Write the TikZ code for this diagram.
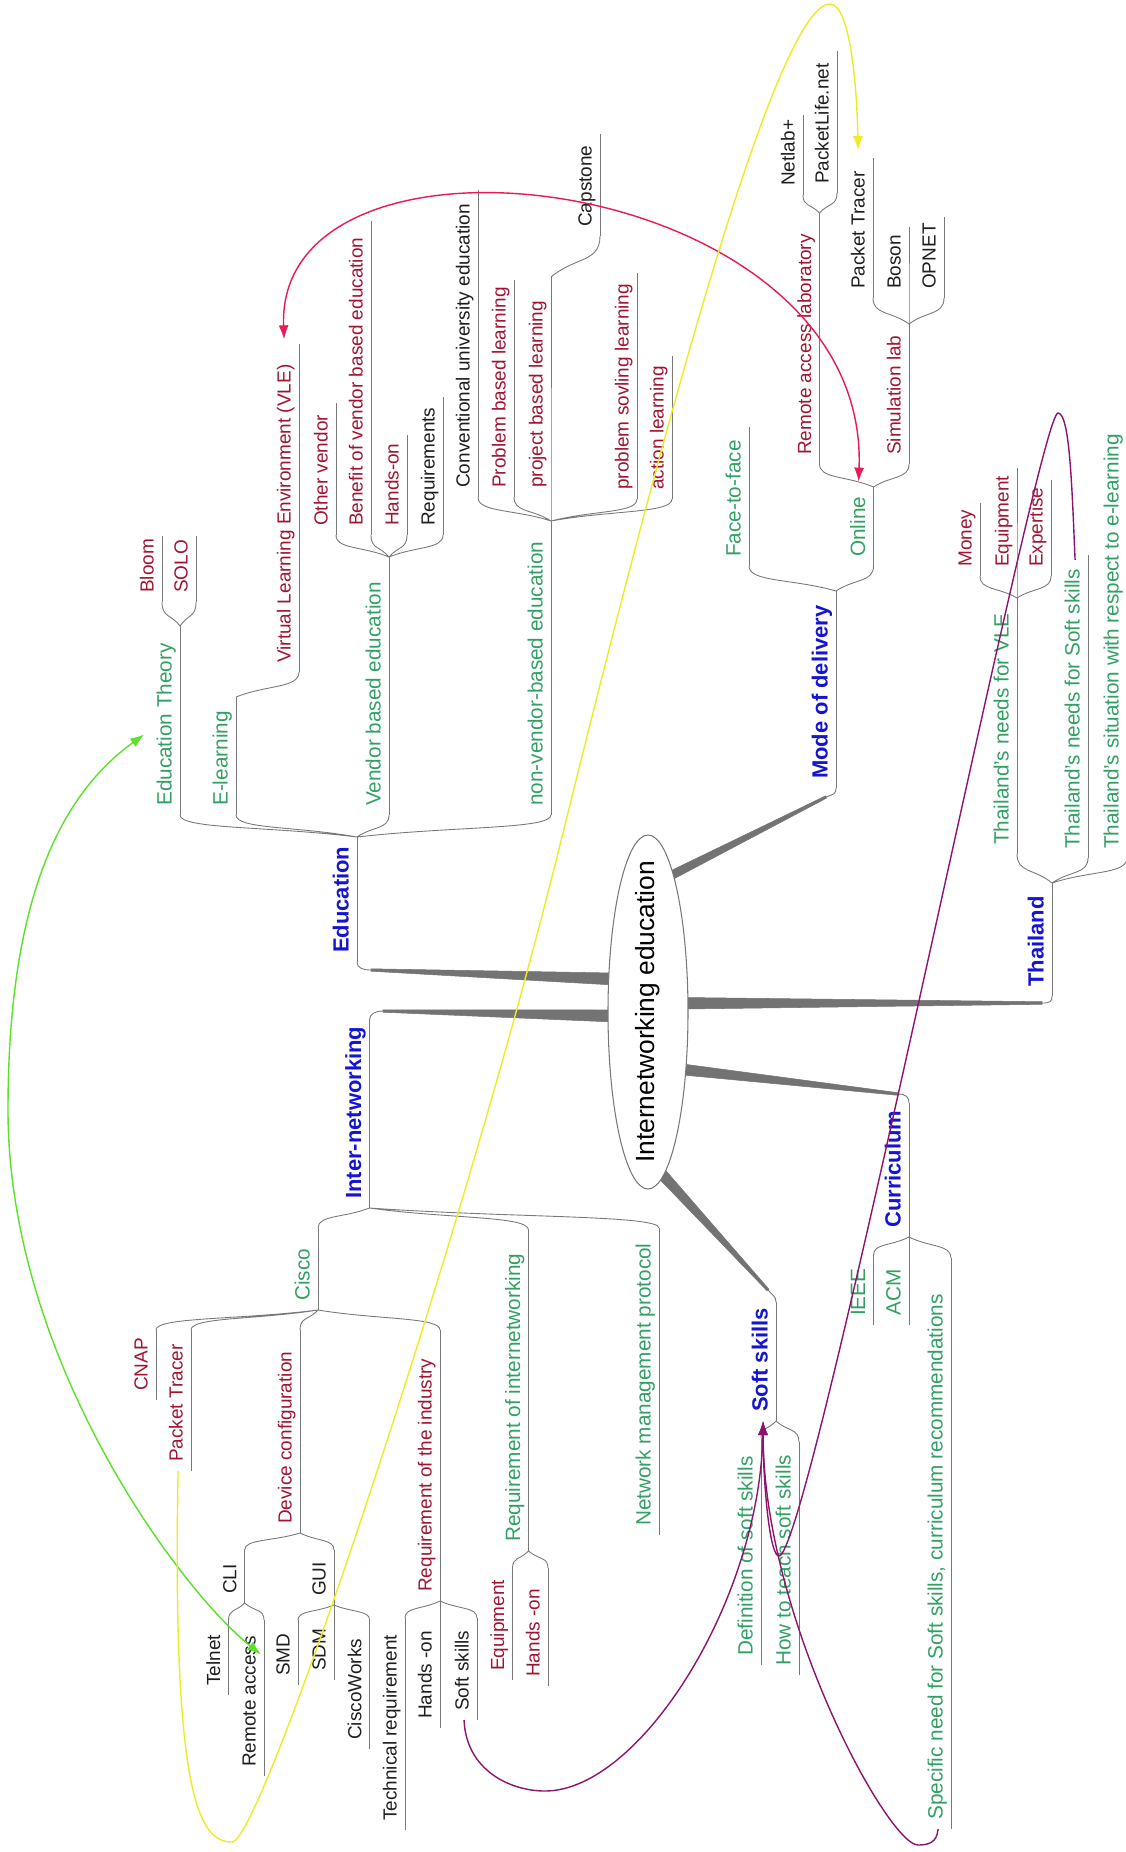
\documentclass[tikz,border=0pt]{standalone}
\usepackage{fontspec}
\setmainfont{Liberation Sans}
\usetikzlibrary{calc, arrows.meta, shapes.geometric}

\definecolor{mmGreen}{RGB}{50,160,100}
\definecolor{mmRed}{RGB}{160,20,50}
\definecolor{mmBlue}{RGB}{20,20,210}
\definecolor{mmInk}{RGB}{30,30,30}
\definecolor{mmLine}{RGB}{120,120,120}
\definecolor{mmTrunk}{RGB}{115,115,115}
\definecolor{linkRed}{RGB}{235,25,85}
\definecolor{linkYellow}{RGB}{235,235,40}
\definecolor{linkGreen}{RGB}{90,225,40}
\definecolor{linkPurple}{RGB}{140,20,110}

\begin{document}
\begin{tikzpicture}[x=0.2mm, y=-0.2mm, >={Latex[length=2.8mm,width=2mm]},
  uline/.style={draw=mmLine, line width=0.5pt},
  forkto/.style={to path={.. controls ($(\tikztostart)!0.5!(\tikztotarget)$)
      and ($(\tikztotarget)!0.65!(\tikztotarget |- \tikztostart)$) .. (\tikztotarget)}},
  lbl/.style={rotate=90, anchor=south west, inner xsep=5pt, inner ysep=2.5pt,
      text height=0.72em, text depth=0.2em, font=\fontsize{10.8}{12}\selectfont},
  tg/.style={lbl, text=mmGreen, font=\fontsize{11.8}{13}\selectfont},
  tr/.style={lbl, text=mmRed},
  tk/.style={lbl, text=mmInk},
  hl/.style={lbl, text=mmBlue, font=\fontsize{12.5}{14}\selectfont\bfseries},
  trunk/.style={fill=mmTrunk, draw=mmTrunk, line width=0.3pt},
  hub/.style={ellipse, draw=mmLine, fill=white, line width=0.6pt,
      minimum width=16mm, minimum height=70.8mm, inner sep=0pt},
  link/.style={line width=0.8pt}]
  \useasboundingbox (0,0) rectangle (1125,1852);

  % Education branch
  \draw[uline] (357,962) coordinate (eduB) -- node[pos=0,hl] (edu) {Education} (357,837) coordinate (eduT);
  \draw[uline] (180,815) coordinate (eduThB) -- node[pos=0,tg] (eduTh) {Education Theory} (180,626) coordinate (eduThT);
  \draw[uline] (162,602) coordinate (bloomB) -- node[pos=0,tr] (bloom) {Bloom} (162,536) coordinate (bloomT);
  \draw[uline] (196,602) coordinate (soloB) -- node[pos=0,tr] (solo) {SOLO} (196,536) coordinate (soloT);
  \draw[uline] (236,815) coordinate (elearnB) -- node[pos=0,tg] (elearn) {E-learning} (236,697) coordinate (elearnT);
  \draw[uline] (299,672) coordinate (vleB) -- node[pos=0,tr] (vle) {Virtual Learning Environment (VLE)} (299,344) coordinate (vleT);
  \draw[uline] (389,815) coordinate (vendorB) -- node[pos=0,tg] (vendor) {Vendor based education} (389,557) coordinate (vendorT);
  \draw[uline] (336,535) coordinate (otherB) -- node[pos=0,tr] (other) {Other vendor} (336,403) coordinate (otherT);
  \draw[uline] (371,535) coordinate (benefitB) -- node[pos=0,tr] (benefit) {Benefit of vendor based education} (371,221) coordinate (benefitT);
  \draw[uline] (407,535) coordinate (handsAB) -- node[pos=0,tr] (handsA) {Hands-on} (407,435) coordinate (handsAT);
  \draw[uline] (443,535) coordinate (reqsB) -- node[pos=0,tk] (reqs) {Requirements} (443,397) coordinate (reqsT);
  \draw[uline] (551,815) coordinate (nonvB) -- node[pos=0,tg] (nonv) {non-vendor-based education} (551,521) coordinate (nonvT);
  \draw[uline] (478,497) coordinate (convB) -- node[pos=0,tk] (conv) {Conventional university education} (478,190) coordinate (convT);
  \draw[uline] (514,497) coordinate (pblB) -- node[pos=0,tr] (pbl) {Problem based learning} (514,280) coordinate (pblT);
  \draw[uline] (nonvT) -- (551,497) coordinate (projB) -- node[pos=0,tr] (proj) {project based learning} (551,277) coordinate (projT);
  \draw[uline] (600,236) coordinate (capB) -- node[pos=0,tk] (cap) {Capstone} (600,134) coordinate (capT);
  \draw[uline] (637,499) coordinate (pslB) -- node[pos=0,tr] (psl) {problem sovling learning} (637,273) coordinate (pslT);
  \draw[uline] (672,499) coordinate (actB) -- node[pos=0,tr] (act) {action learning} (672,356) coordinate (actT);

  % Mode of delivery branch
  \draw[uline] (836,788) coordinate (modeB) -- node[pos=0,hl] (mode) {Mode of delivery} (836,591) coordinate (modeT);
  \draw[uline] (749,566) coordinate (f2fB) -- node[pos=0,tg] (f2f) {Face-to-face} (749,427) coordinate (f2fT);
  \draw[uline] (873.5,566) coordinate (onlineB) -- node[pos=0,tg] (online) {Online} (873.5,487) coordinate (onlineT);
  \draw[uline] (819.5,464) coordinate (ralB) -- node[pos=0,tr] (ral) {Remote access laboratory} (819.5,213) coordinate (ralT);
  \draw[uline] (803,195) coordinate (netlabB) -- node[pos=0,tk] (netlab) {Netlab+} (803,115) coordinate (netlabT);
  \draw[uline] (837,193) coordinate (plifeB) -- node[pos=0,tk] (plife) {PacketLife.net} (837,51) coordinate (plifeT);
  \draw[uline] (909,464) coordinate (simB) -- node[pos=0,tr] (sim) {Simulation lab} (909,324) coordinate (simT);
  \draw[uline] (873,298) coordinate (ptRB) -- node[pos=0,tk] (ptR) {Packet Tracer} (873,158) coordinate (ptRT);
  \draw[uline] (simT) -- (909,298) coordinate (bosonB) -- node[pos=0,tk] (boson) {Boson} (909,227) coordinate (bosonT);
  \draw[uline] (944,298) coordinate (opnetB) -- node[pos=0,tk] (opnet) {OPNET} (944,217) coordinate (opnetT);

  % Thailand branch
  \draw[uline] (1052,996) coordinate (thaiB) -- node[pos=0,hl] (thai) {Thailand} (1052,883) coordinate (thaiT);
  \draw[uline] (1017,854) coordinate (tvleB) -- node[pos=0,tg] (tvle) {Thailand's needs for VLE} (1017,598) coordinate (tvleT);
  \draw[uline] (980,576) coordinate (moneyB) -- node[pos=0,tr] (money) {Money} (980,503) coordinate (moneyT);
  \draw[uline] (tvleT) -- (1017,576) coordinate (equipB) -- node[pos=0,tr] (equip) {Equipment} (1017,468) coordinate (equipT);
  \draw[uline] (1051,576) coordinate (expB) -- node[pos=0,tr] (expert) {Expertise} (1051,480) coordinate (expT);
  \draw[uline] (1088,858) coordinate (tsoftB) -- node[pos=0,tg] (tsoft) {Thailand's needs for Soft skills} (1088,555) coordinate (tsoftT);
  \draw[uline] (1127,858) coordinate (tsitB) -- node[pos=0,tg] (tsit) {Thailand's situation with respect to e-learning} (1127,420) coordinate (tsitT);

  % Curriculum branch
  \draw[uline] (909,1237) coordinate (currB) -- node[pos=0,hl] (curr) {Curriculum} (909,1103) coordinate (currT);
  \draw[uline] (873.5,1325) coordinate (ieeeB) -- node[pos=0,tg] (ieee) {IEEE} (873.5,1255) coordinate (ieeeT);
  \draw[uline] (909,1325) coordinate (acmB) -- node[pos=0,tg] (acm) {ACM} (currB);
  \draw[uline] (951,1829) coordinate (specB) -- node[pos=0,tg] (spec) {Specific need for Soft skills, curriculum recommendations} (951,1258) coordinate (specT);

  % Soft skills branch
  \draw[uline] (776,1421) coordinate (softB) -- node[pos=0,hl] (soft) {Soft skills} (776,1302) coordinate (softT);
  \draw[uline] (761,1665) coordinate (definB) -- node[pos=0,tg] (defin) {Definition of soft skills} (761,1438) coordinate (definT);
  \draw[uline] (799,1675) coordinate (howB) -- node[pos=0,tg] (how) {How to teach soft skills} (799,1442) coordinate (howT);

  % Inter-networking branch
  \draw[uline] (369.5,1208) coordinate (interB) -- node[pos=0,hl] (inter) {Inter-networking} (369.5,1020) coordinate (interT);
  \draw[uline] (318,1310) coordinate (ciscoB) -- node[pos=0,tg] (cisco) {Cisco} (318,1228) coordinate (ciscoT);
  \draw[uline] (156,1400) coordinate (cnapB) -- node[pos=0,tr] (cnap) {CNAP} (156,1330) coordinate (cnapT);
  \draw[uline] (191,1471) coordinate (ptLB) -- node[pos=0,tr] (ptL) {Packet Tracer} (191,1330) coordinate (ptLT);
  \draw[uline] (300,1533) coordinate (devB) -- node[pos=0,tr] (dev) {Device configuration} (300,1330) coordinate (devT);
  \draw[uline] (244.6,1603) coordinate (cliB) -- node[pos=0,tk] (cli) {CLI} (244.6,1550) coordinate (cliT);
  \draw[uline] (228.5,1695) coordinate (telnetB) -- node[pos=0,tk] (telnet) {Telnet} (228.5,1620) coordinate (telnetT);
  \draw[uline] (264,1776) coordinate (raB) -- node[pos=0,tk] (ra) {Remote access} (264,1620) coordinate (raT);
  \draw[uline] (334,1605) coordinate (guiB) -- node[pos=0,tk] (gui) {GUI} (334,1550) coordinate (guiT);
  \draw[uline] (298,1685) coordinate (smdB) -- node[pos=0,tk] (smd) {SMD} (298,1620) coordinate (smdT);
  \draw[uline] (334,1680) coordinate (sdmB) -- node[pos=0,tk] (sdm) {SDM} (guiB);
  \draw[uline] (369.6,1749) coordinate (cworksB) -- node[pos=0,tk] (cworks) {CiscoWorks} (369.6,1620) coordinate (cworksT);
  \draw[uline] (440,1601) coordinate (reqindB) -- node[pos=0,tr] (reqind) {Requirement of the industry} (440,1330) coordinate (reqindT);
  \draw[uline] (405,1830) coordinate (techB) -- node[pos=0,tk] (tech) {Technical requirement} (405,1618) coordinate (techT);
  \draw[uline] (440,1728) coordinate (handsBB) -- node[pos=0,tk] (handsB) {Hands -on} (reqindB);
  \draw[uline] (477,1720) coordinate (softLB) -- node[pos=0,tk] (softL) {Soft skills} (477,1618) coordinate (softLT);
  \draw[uline] (528.5,1551) coordinate (reqintB) -- node[pos=0,tg] (reqint) {Requirement of internetworking} (528.5,1230) coordinate (reqintT);
  \draw[uline] (512.5,1680) coordinate (equipLB) -- node[pos=0,tr] (equipL) {Equipment} (512.5,1568) coordinate (equipLT);
  \draw[uline] (548,1686) coordinate (handsCB) -- node[pos=0,tr] (handsC) {Hands -on} (548,1568) coordinate (handsCT);
  \draw[uline] (659,1535) coordinate (nmpB) -- node[pos=0,tg] (nmp) {Network management protocol} (659,1228) coordinate (nmpT);

  % Forks between parents and children
  \draw[uline] (eduT) to[forkto] (eduThB) (eduT) to[forkto] (elearnB) (eduT) to[forkto] (vendorB) (eduT) to[forkto] (nonvB)
    (eduThT) to[forkto] (bloomB) (eduThT) to[forkto] (soloB) (elearnT) to[forkto] (vleB)
    (vendorT) to[forkto] (otherB) (vendorT) to[forkto] (benefitB) (vendorT) to[forkto] (handsAB) (vendorT) to[forkto] (reqsB)
    (nonvT) to[forkto] (convB) (nonvT) to[forkto] (pblB) (nonvT) to[forkto] (pslB) (nonvT) to[forkto] (actB)
    (projT) to[forkto] (capB);
  \draw[uline] (modeT) to[forkto] (f2fB) (modeT) to[forkto] (onlineB)
    (onlineT) to[forkto] (ralB) (onlineT) to[forkto] (simB)
    (ralT) to[forkto] (netlabB) (ralT) to[forkto] (plifeB)
    (simT) to[forkto] (ptRB) (simT) to[forkto] (opnetB);
  \draw[uline] (thaiT) to[forkto] (tvleB) (thaiT) to[forkto] (tsoftB) (thaiT) to[forkto] (tsitB)
    (tvleT) to[forkto] (moneyB) (tvleT) to[forkto] (expB);
  \draw[uline] (currB) to[forkto] (ieeeT) (currB) to[forkto] (specT)
    (softB) to[forkto] (definT) (softB) to[forkto] (howT);
  \draw[uline] (interB) to[forkto] (ciscoT) (interB) to[forkto] (reqintT) (interB) to[forkto] (nmpT)
    (ciscoB) to[forkto] (cnapT) (ciscoB) to[forkto] (ptLT) (ciscoB) to[forkto] (devT) (ciscoB) to[forkto] (reqindT)
    (devB) to[forkto] (cliT) (devB) to[forkto] (guiT)
    (cliB) to[forkto] (telnetT) (cliB) to[forkto] (raT)
    (guiB) to[forkto] (smdT) (guiB) to[forkto] (cworksT)
    (reqindB) to[forkto] (techT) (reqindB) to[forkto] (softLT)
    (reqintB) to[forkto] (equipLT) (reqintB) to[forkto] (handsCT);

  % Trunks to the central topic
  \draw[uline] (eduB) .. controls +(0,6) and +(-8,0) .. (371,970) coordinate (eduJ);
  \fill[trunk] ($(eduJ)+(0,-1.2)$) -- (614,973) -- (614,985) -- ($(eduJ)+(0,1.2)$) -- cycle;
  \draw[uline] (interT) .. controls +(0,-6) and +(-8,0) .. (383,1011) coordinate (interJ);
  \fill[trunk] ($(interJ)+(0,-1.2)$) -- (614,1010) -- (614,1022) -- ($(interJ)+(0,1.2)$) -- cycle;
  \draw[uline] (modeB) .. controls +(0,6) and +(8,-3) .. (826,797) coordinate (modeJ);
  \fill[trunk] ($(modeJ)+(0.5,1.1)$) -- (666,883) -- (662,875) -- ($(modeJ)+(-0.5,-1.1)$) -- cycle;
  \draw[uline] (thaiB) .. controls +(0,6) and +(8,0) .. (1042,1003) coordinate (thaiJ);
  \fill[trunk] ($(thaiJ)+(0,-1.3)$) -- (684,997.5) -- (684,1009) -- ($(thaiJ)+(0,1.3)$) -- cycle;
  \draw[uline] (currT) .. controls +(0,-6) and +(8,0) .. (898,1094) coordinate (currJ);
  \fill[trunk] ($(currJ)+(0,-1.3)$) -- (683,1064) -- (683,1075) -- ($(currJ)+(0,1.3)$) -- cycle;
  \draw[uline] (softT) .. controls +(0,-6) and +(4,5) .. (768,1290) coordinate (softJ);
  \fill[trunk] ($(softJ)+(0.9,-0.8)$) -- (664,1168.5) -- (656,1175.5) -- ($(softJ)+(-0.9,0.8)$) -- cycle;

  % Central topic
  \node[hub] (hub) at (648,1012) {};
  \node[rotate=90, font=\fontsize{15}{18}\selectfont] (hubText) at (hub) {Internetworking education};

  % Cross links
  \draw[link, linkRed, <->] ($(vle.east)+(-2,-16)$) .. controls (275,100) and (870,170) .. ($(online.east)+(-2,-6)$);
  \draw[link, linkGreen, <->] ($(eduTh.north)+(-10,10)$) .. controls (60,795) and (8,900) .. (8,1110)
    .. controls (8,1360) and (181,1591) .. ($(ra.south)+(-3,-47)$);
  \draw[link, linkYellow, ->] (ptL.west) .. controls (172,1800) and (200,1842) .. (232,1842)
    .. controls (262,1842) and (464,1233) .. (560,845) .. controls (632,554) and (770,4) .. (830,4)
    .. controls (850,4) and (857,86) .. ($(ptR.east)+(-2,-12)$);
  \draw[link, linkPurple, ->] (softL.west) .. controls (466,1770) and (510,1791) .. (545,1791)
    .. controls (640,1791) and (760,1600) .. (soft.west);
  \draw[link, linkPurple, ->] (tsoft.east) .. controls (1072,490) and (1070,413) .. (1058,413)
    .. controls (1038,413) and (810,1556) .. (779,1556) .. controls (769,1556) and (763,1477) .. (soft.west);
  \draw[link, linkPurple, ->] (spec.west) .. controls (937,1843) and (928,1845) .. (918,1845)
    .. controls (888,1845) and (763,1617) .. (soft.west);
\end{tikzpicture}
\end{document}
